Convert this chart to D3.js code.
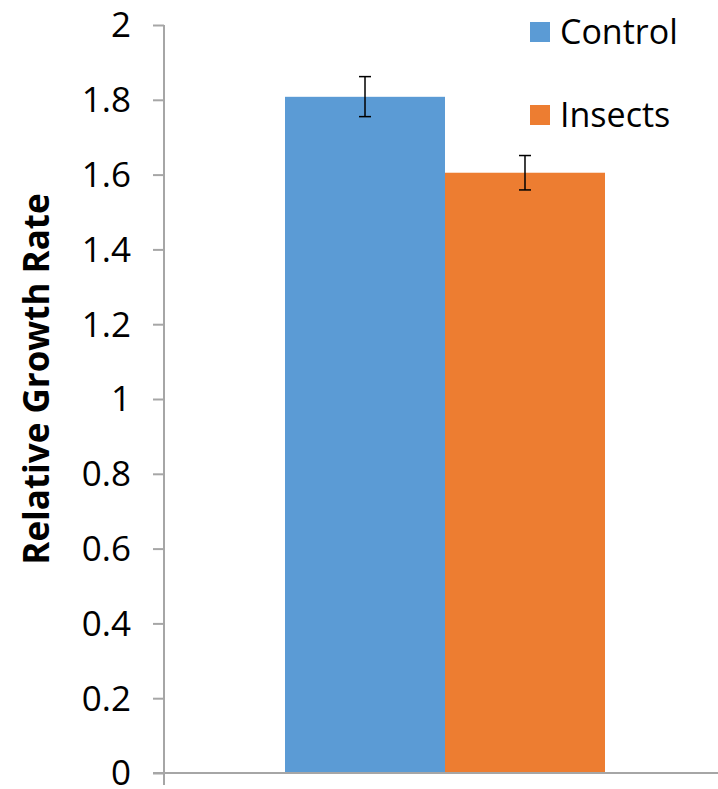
<!DOCTYPE html>
<html>
<head>
<meta charset="utf-8">
<script src="https://cdn.jsdelivr.net/npm/d3@7"></script>
<style>
  body { margin: 0; background: #fff; }
  svg { display: block; font-family: 'Open Sans', sans-serif; }
</style>
</head>
<body>
<div class="canvas"></div>
<script>
const categories = ['']
const series = ['Control', 'Insects']
const values = [1.808, 1.605]
const errLow = [1.755, 1.559]
const errHigh = [1.862, 1.651]
const yTicks = [0, 0.2, 0.4, 0.6, 0.8, 1, 1.2, 1.4, 1.6, 1.8, 2]
const colors = ['#5B9BD5', '#ED7D31']

const width = 718
const height = 789

const svg = d3.select('.canvas').append('svg')
    .attr('width', width)
    .attr('height', height)

const y = d3.scaleLinear().domain([0, 2]).range([773, 25])

// one category, two bars side by side
const x0 = d3.scaleBand().domain(categories).range([164, 726]).paddingInner(0.2744).paddingOuter(0.2744)
const x1 = d3.scaleBand().domain(series).range([0, x0.bandwidth()])

// y axis
const yAxis = svg.append('g')
    .attr('transform', 'translate(164,0)')
    .call(d3.axisLeft(y).tickValues(yTicks).tickSize(11).tickPadding(22).tickFormat(d => d3.format('')(d)))
yAxis.select('.domain').attr('stroke', '#a6a6a6').attr('stroke-width', 2).attr('d', 'M0,25V785')
yAxis.selectAll('.tick line').attr('stroke', '#a6a6a6').attr('stroke-width', 2)
yAxis.selectAll('.tick text')
    .attr('fill', '#000')
    .attr('dy', '0.34em')
    .style('font-family', "'Open Sans', sans-serif")
    .style('font-size', '35px')

// bars
const g = svg.append('g')
g.selectAll('rect')
    .data(series)
    .join('rect')
    .attr('x', (d) => x0('') + x1(d))
    .attr('width', x1.bandwidth())
    .attr('y', (d, i) => y(values[i]))
    .attr('height', (d, i) => y(0) - y(values[i]))
    .attr('fill', (d, i) => colors[i])

// x axis line drawn over bar bottoms
svg.append('line')
    .attr('x1', 153).attr('x2', 726)
    .attr('y1', y(0)).attr('y2', y(0))
    .attr('stroke', '#a6a6a6')
    .attr('stroke-width', 2)

// error bars
const eb = svg.append('g').attr('stroke', '#000').attr('stroke-width', 1.5)
series.forEach((s, i) => {
    let cx = x0('') + x1(s) + x1.bandwidth() / 2
    eb.append('line').attr('x1', cx).attr('x2', cx).attr('y1', y(errLow[i])).attr('y2', y(errHigh[i]))
    eb.append('line').attr('x1', cx - 6).attr('x2', cx + 6).attr('y1', y(errLow[i])).attr('y2', y(errLow[i]))
    eb.append('line').attr('x1', cx - 6).attr('x2', cx + 6).attr('y1', y(errHigh[i])).attr('y2', y(errHigh[i]))
})

// y axis title
svg.append('text')
    .attr('transform', 'translate(49,379) rotate(-90)')
    .attr('text-anchor', 'middle')
    .style('font-size', '35px')
    .style('font-weight', 'bold')
    .text('Relative Growth Rate')

// legend
const legend = svg.append('g')
series.forEach((s, i) => {
    legend.append('rect')
        .attr('x', 530).attr('y', 22 + i * 83)
        .attr('width', 20).attr('height', 20)
        .attr('fill', colors[i])
    legend.append('text')
        .attr('x', 560).attr('y', 44 + i * 83)
        .style('font-size', '34px')
        .text(s)
})
</script>
</body>
</html>
